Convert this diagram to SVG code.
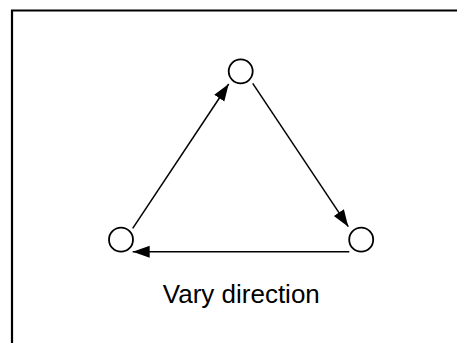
<svg xmlns="http://www.w3.org/2000/svg" width="457" height="343" viewBox="0 0 457 343">
  <style>
    .node circle { fill: #ffffff; stroke: #000000; stroke-width: 1.8; }
    .edge { stroke: #000000; stroke-width: 1.5; fill: none; marker-end: url(#arrow); }
    .label { font-family: "Liberation Sans", Arial, sans-serif; font-size: 26px; fill: #000000; text-anchor: middle; }
  </style>
  <defs>
    <marker id="arrow" markerUnits="userSpaceOnUse" markerWidth="18" markerHeight="14" refX="17" refY="6.5" orient="auto">
      <path d="M0,0.5 L17,6.5 L0,12.5 z" fill="#000000"/>
    </marker>
  </defs>
  <rect x="0" y="0" width="457" height="343" fill="#ffffff"/>
  <path d="M12,350 L12,10.5 L470,10.5" fill="none" stroke="#000000" stroke-width="2.2"/>
  <g id="connectors">
    <line class="edge" x1="132.7" y1="228.3" x2="228.7" y2="84"/>
    <line class="edge" x1="252.7" y1="83.3" x2="348.3" y2="226.7"/>
    <line class="edge" x1="349.3" y1="251.7" x2="132.7" y2="251.7"/>
  </g>
  <g id="node-top" class="node"><circle cx="240.7" cy="71.3" r="12"/></g>
  <g id="node-left" class="node"><circle cx="121" cy="239.7" r="12"/></g>
  <g id="node-right" class="node"><circle cx="361.2" cy="239.7" r="12"/></g>
  <text class="label" x="241.3" y="303">Vary direction</text>
</svg>
